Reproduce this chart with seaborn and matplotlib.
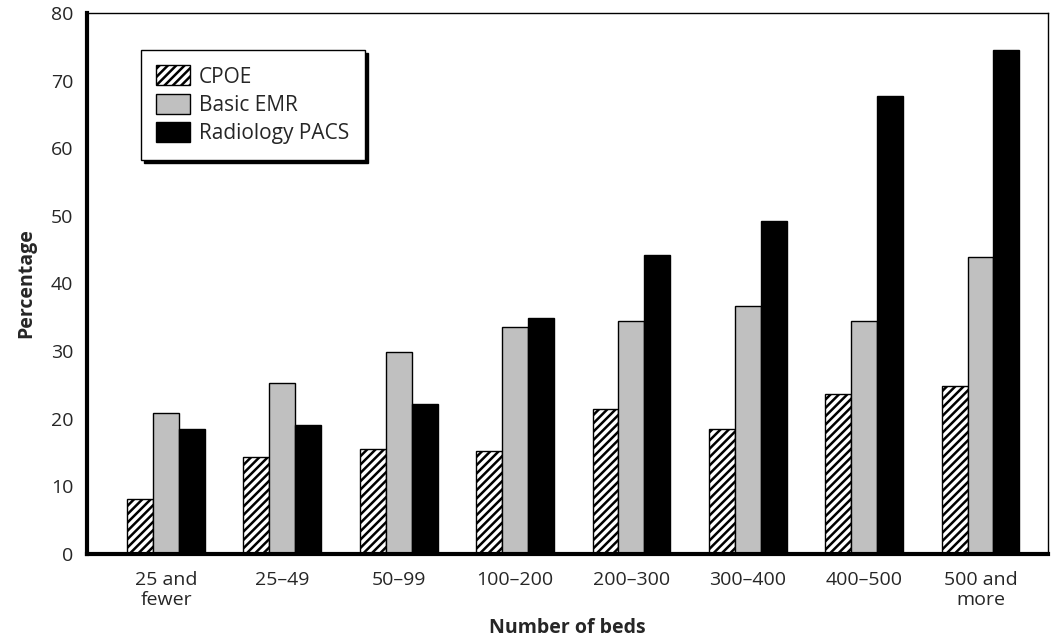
import pandas as pd
import seaborn as sns
import matplotlib.pyplot as plt

# Values
beds = ['25 and\nfewer', '25–49', '50–99', '100–200', '200–300', '300–400', '400–500', '500 and\nmore']
cpoe = [8.1, 14.4, 15.5, 15.3, 21.5, 18.5, 23.6, 24.9]
basic_emr = [20.8, 25.3, 29.8, 33.5, 34.5, 36.6, 34.4, 43.9]
radiology_pacs = [18.5, 19.1, 22.2, 34.9, 44.2, 49.2, 67.8, 74.6]

series = ['CPOE', 'Basic EMR', 'Radiology PACS']
colors = ['white', '#c0c0c0', 'black']

df = pd.DataFrame({
    'beds': beds * 3,
    'system': [s for s in series for _ in beds],
    'pct': cpoe + basic_emr + radiology_pacs,
})

sns.set_style('white')
plt.rcParams['font.family'] = ['Open Sans', 'DejaVu Sans']
plt.rcParams['hatch.linewidth'] = 1.8

fig = plt.figure(figsize=(10.56, 6.38), dpi=100)
ax = fig.add_axes([0.0824, 0.1317, 0.91, 0.8479])

sns.barplot(data=df, x='beds', y='pct', hue='system', hue_order=series,
            palette=colors, width=0.67, gap=0, edgecolor='black', linewidth=1,
            saturation=1, ax=ax)

# hatch the CPOE bars (first hue container)
for bar in ax.containers[0]:
    bar.set_hatch('////')

ax.set_ylim(0, 80)
ax.set_xlim(-0.68, 7.58)
ax.set_yticks(range(0, 90, 10))
ax.tick_params(axis='y', direction='in', length=8, width=1.2, labelsize=14, pad=10)
ax.tick_params(axis='x', length=0, labelsize=14, pad=12)

for side in ['left', 'bottom']:
    ax.spines[side].set_linewidth(3)
for side in ['top', 'right']:
    ax.spines[side].set_linewidth(1)
for s in ax.spines.values():
    s.set_color('black')

ax.set_xlabel('Number of beds', fontsize=14, fontweight='bold', labelpad=6)
ax.set_ylabel('Percentage', fontsize=14, fontweight='bold', labelpad=10)

# legend with hatch patch for CPOE
handles, labels = ax.get_legend_handles_labels()
handles[0].set_hatch('////')
leg = ax.legend(handles, labels, loc='upper left', bbox_to_anchor=(0.056, 0.932),
                borderaxespad=0, fontsize=15, frameon=True, fancybox=False,
                shadow={'color': 'black', 'alpha': 1},
                edgecolor='black', handlelength=1.6, handleheight=1.1,
                labelspacing=0.3, borderpad=0.75, handletextpad=0.45)
leg.get_frame().set_linewidth(1)

fig.savefig('out.png', dpi=100)
